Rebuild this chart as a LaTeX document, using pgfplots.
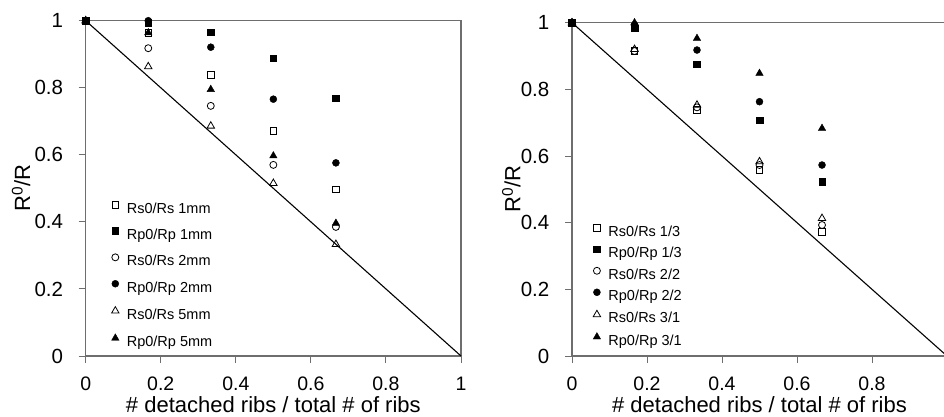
\documentclass[border=0pt]{standalone}
\usepackage{fontspec}
\setmainfont{Liberation Sans}
\usepackage{pgfplots}
\pgfplotsset{compat=1.18}
\definecolor{axgray}{RGB}{110,110,110}
\newcommand{\legfont}{\fontsize{14.5}{15}\selectfont}
\pgfplotsset{
  ribstyle/.style={
    scale only axis,
    xmin=0, xmax=1, ymin=0, ymax=1,
    enlargelimits=false,
    clip=false,
    xtick={0,0.2,0.4,0.6,0.8,1},
    ytick={0,0.2,0.4,0.6,0.8,1},
    xtick pos=bottom, ytick pos=left,
    tick align=outside,
    major tick length=7pt,
    axis line style={axgray, line width=1.3pt},
    every tick/.style={axgray, line width=1pt},
    /pgf/number format/assume math mode=true,
    xticklabel style={font=\fontsize{19.5}{21}\selectfont, anchor=north, inner sep=0pt, yshift=-13.5pt},
    yticklabel style={font=\fontsize{20.5}{22}\selectfont, anchor=east, inner sep=0pt, xshift=-15.5pt},
    label style={font=\fontsize{22}{24}\selectfont},
    xlabel={\# detached ribs / total \# of ribs},
    ylabel={R\textsuperscript{0}/R},
    xlabel style={at={(axis description cs:0.5,0)}, anchor=center, yshift=-49pt},
    legend style={draw=none, fill=none, inner sep=0pt, outer sep=0pt,
      anchor=north west, column sep=7.8pt,
      font=\legfont,
      nodes={inner sep=0pt, font=\legfont, text height=10pt, text depth=3pt}},
    legend cell align=left,
    legend image code/.code={\draw[#1] plot coordinates {(0pt,4.8pt)};},
  },
  osq/.style={only marks, mark=square, mark size=3.3pt, mark options={draw=black, fill=white, line width=0.8pt}},
  fsq/.style={only marks, mark=square*, mark size=3.3pt, mark options={draw=black, fill=black}},
  ocirc/.style={only marks, mark=o, mark size=3.5pt, mark options={draw=black, fill=white, line width=0.8pt}},
  fcirc/.style={only marks, mark=*, mark size=3.5pt, mark options={draw=black, fill=black}},
  otri/.style={only marks, mark=triangle, mark size=4.3pt, mark options={draw=black, fill=white, line width=0.8pt}},
  ftri/.style={only marks, mark=triangle*, mark size=4.3pt, mark options={draw=black, fill=black}},
}
\begin{document}
\begin{tikzpicture}
\useasboundingbox (0,0) rectangle (944pt,416pt);
\clip (0,0) rectangle (944pt,416pt);
% ---------- left panel ----------
\begin{axis}[ribstyle,
  at={(85.7pt,60pt)}, anchor=south west,
  width=375.3pt, height=335.3pt,
  ylabel style={at={(axis description cs:-0.172,0.5)}, anchor=center},
  legend style={at={(0.069,0.461)}, row sep=11.6pt},
]
\addplot[black, line width=1.1pt, forget plot] coordinates {(0,1) (1,0)};
\addplot[osq] coordinates {(0,1) (0.1667,0.964) (0.3333,0.838) (0.5,0.672) (0.6667,0.497)};
\addlegendentry{\legfont Rs0/Rs 1mm}
\addplot[fsq] coordinates {(0,1) (0.1667,0.994) (0.3333,0.966) (0.5,0.888) (0.6667,0.769)};
\addlegendentry{\legfont Rp0/Rp 1mm}
\addplot[ocirc] coordinates {(0,1) (0.1667,0.918) (0.3333,0.746) (0.5,0.570) (0.6667,0.385)};
\addlegendentry{\legfont Rs0/Rs 2mm}
\addplot[fcirc] coordinates {(0,1) (0.1667,1.0) (0.3333,0.921) (0.5,0.766) (0.6667,0.576)};
\addlegendentry{\legfont Rp0/Rp 2mm}
\addplot[otri] coordinates {(0,1) (0.1667,0.863) (0.3333,0.686) (0.5,0.515) (0.6667,0.333)};
\addlegendentry{\legfont Rs0/Rs 5mm}
\addplot[ftri] coordinates {(0,1) (0.1667,0.964) (0.3333,0.795) (0.5,0.597) (0.6667,0.396)};
\addlegendentry{\legfont Rp0/Rp 5mm}
\addplot[fsq, forget plot] coordinates {(0,1)};
\end{axis}
% ---------- right panel ----------
\begin{axis}[ribstyle,
  at={(572pt,60pt)}, anchor=south west,
  width=375pt, height=333.3pt,
  xtick={0,0.2,0.4,0.6,0.8},
  ylabel style={at={(axis description cs:-0.162,0.5)}, anchor=center},
  legend style={at={(0.0565,0.394)}, row sep=6.7pt},
]
\addplot[black, line width=1.1pt, forget plot] coordinates {(0,1) (1,0)};
\addplot[osq] coordinates {(0,1) (0.1667,0.915) (0.3333,0.738) (0.5,0.558) (0.6667,0.373)};
\addlegendentry{\legfont Rs0/Rs 1/3}
\addplot[fsq] coordinates {(0,1) (0.1667,0.983) (0.3333,0.875) (0.5,0.708) (0.6667,0.523)};
\addlegendentry{\legfont Rp0/Rp 1/3}
\addplot[ocirc] coordinates {(0,1) (0.1667,0.915) (0.3333,0.746) (0.5,0.573) (0.6667,0.393)};
\addlegendentry{\legfont Rs0/Rs 2/2}
\addplot[fcirc] coordinates {(0,1) (0.1667,0.993) (0.3333,0.918) (0.5,0.763) (0.6667,0.573)};
\addlegendentry{\legfont Rp0/Rp 2/2}
\addplot[otri] coordinates {(0,1) (0.1667,0.92) (0.3333,0.753) (0.5,0.583) (0.6667,0.413)};
\addlegendentry{\legfont Rs0/Rs 3/1}
\addplot[ftri] coordinates {(0,1) (0.1667,1.0) (0.3333,0.953) (0.5,0.848) (0.6667,0.683)};
\addlegendentry{\legfont Rp0/Rp 3/1}
\addplot[fsq, forget plot] coordinates {(0,1)};
\end{axis}
\end{tikzpicture}
\end{document}
